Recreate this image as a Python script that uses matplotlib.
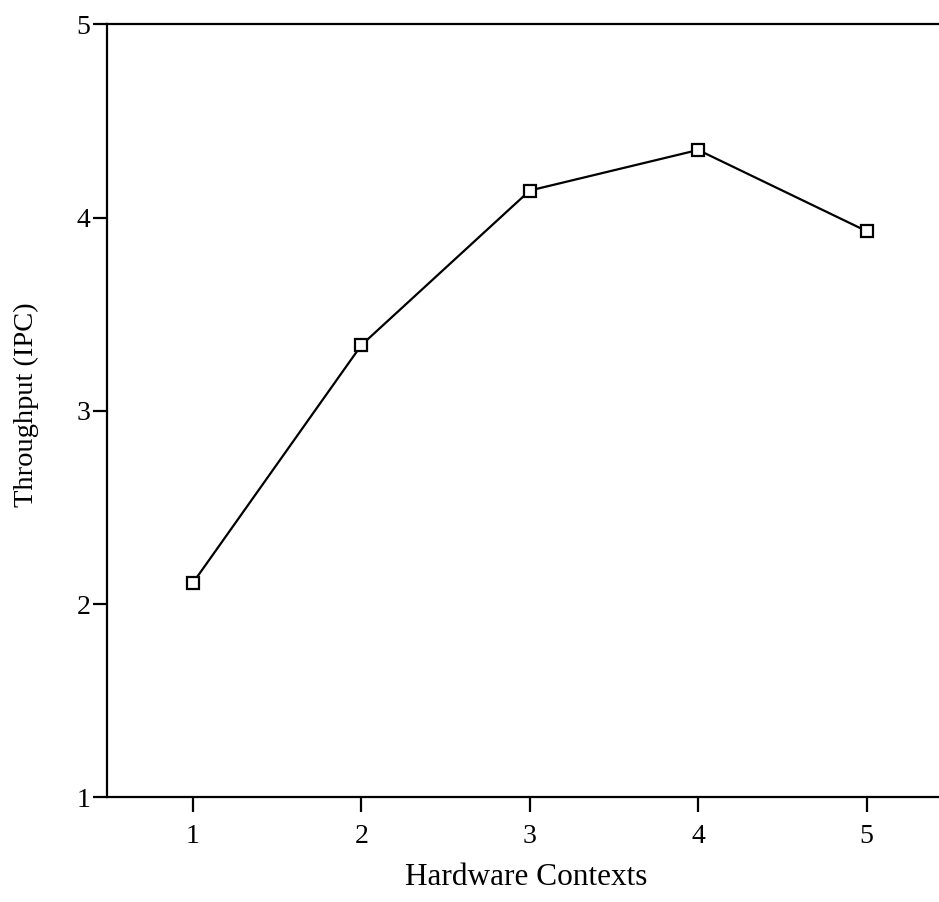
import matplotlib.pyplot as plt

plt.rcParams['font.family'] = ['Liberation Serif', 'DejaVu Serif']

contexts = [1, 2, 3, 4, 5]
ipc = [2.11, 3.34, 4.14, 4.35, 3.93]

fig = plt.figure(figsize=(9.39, 9.02), dpi=100)
ax = fig.add_axes([0.114, 0.116, 0.886, 0.857])

ax.plot(contexts, ipc, color='black', linewidth=1.6, marker='s', markersize=9,
        markerfacecolor='white', markeredgecolor='black', markeredgewidth=1.6)

ax.set_xlim(0.49, 5.43)
ax.set_ylim(1, 5)
ax.set_xticks(contexts)
ax.set_yticks([1, 2, 3, 4, 5])

ax.spines['right'].set_visible(False)
for s in ['left', 'bottom', 'top']:
    ax.spines[s].set_linewidth(1.6)

ax.tick_params(axis='x', direction='out', length=11, width=1.6, labelsize=20, pad=8)
ax.tick_params(axis='y', direction='out', length=10, width=1.6, labelsize=20, pad=2)

ax.set_xlabel('Hardware Contexts', fontsize=22.5)
ax.set_ylabel('Throughput (IPC)', fontsize=20.5)
ax.xaxis.set_label_coords(0.504, -0.085)
ax.yaxis.set_label_coords(-0.082, 0.508)

fig.savefig('out.png', dpi=100)
